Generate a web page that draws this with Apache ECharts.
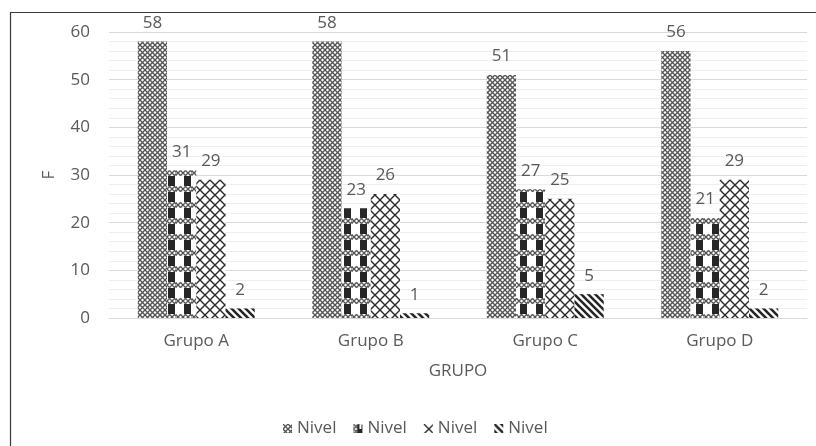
<!DOCTYPE html>
<html>
<head>
<meta charset="utf-8">
<script src="https://cdn.jsdelivr.net/npm/echarts@6/dist/echarts.min.js"></script>
<style>
  html, body { margin: 0; padding: 0; background: #ffffff; }
  #chart { width: 816px; height: 446px; }
</style>
</head>
<body>
<div id="chart"></div>
<script>
// Group categories and counts per level
const categories = ['Grupo A', 'Grupo B', 'Grupo C', 'Grupo D'];
const nivel1 = [58, 58, 51, 56];
const nivel2 = [31, 23, 27, 21];
const nivel3 = [29, 26, 25, 29];
const nivel4 = [2, 1, 5, 2];
const seriesNames = ['Nivel 1', 'Nivel 2', 'Nivel 3', 'Nivel 4'];
const legendLabel = 'Nivel';
const yTicks = [0, 10, 20, 30, 40, 50, 60];

const TEXT = '#595959';
const FONT = 'Open Sans';
const FS = 17;

// --- hatch fills -------------------------------------------------------
function tile(w, h, draw) {
  const c = document.createElement('canvas');
  c.width = w; c.height = h;
  const ctx = c.getContext('2d');
  ctx.fillStyle = '#ffffff';
  ctx.fillRect(0, 0, w, h);
  draw(ctx, w, h);
  return c;
}

// fine lattice used by the first level and for the bands of the second
function fineLattice(ctx, x0, y0, w, h) {
  ctx.save();
  ctx.beginPath();
  ctx.rect(x0, y0, w, h);
  ctx.clip();
  ctx.strokeStyle = '#555555';
  ctx.lineWidth = 1.3;
  const p = 5;
  for (let k = -h - p; k < w + h + p; k += p) {
    ctx.beginPath();
    ctx.moveTo(x0 + k, y0);
    ctx.lineTo(x0 + k + h, y0 + h);
    ctx.stroke();
    ctx.beginPath();
    ctx.moveTo(x0 + k + h, y0);
    ctx.lineTo(x0 + k, y0 + h);
    ctx.stroke();
  }
  ctx.restore();
}

const pat1 = tile(10, 10, (ctx, w, h) => fineLattice(ctx, 0, 0, w, h));

const pat2 = tile(16, 16, (ctx, w, h) => {
  ctx.fillStyle = '#262626';
  ctx.fillRect(8, 0, 7, h);
  ctx.fillStyle = '#ffffff';
  ctx.fillRect(0, 10, w, 6);
  fineLattice(ctx, 0, 10, w, 6);
});

// compact swatch of the second level for the legend key
const pat2Key = tile(10, 10, (ctx, w, h) => {
  fineLattice(ctx, 0, 0, w, h);
  ctx.fillStyle = '#262626';
  ctx.fillRect(4, 1, 6, 9);
  ctx.fillStyle = '#ffffff';
  ctx.fillRect(6, 1, 2, 4);
});

const pat3 = tile(10, 10, (ctx, w, h) => {
  ctx.strokeStyle = '#2a2a2a';
  ctx.lineWidth = 1.4;
  ctx.beginPath();
  ctx.moveTo(0, 0); ctx.lineTo(w, h);
  ctx.moveTo(w, 0); ctx.lineTo(0, h);
  ctx.stroke();
});

const pat4 = tile(7, 7, (ctx, w, h) => {
  ctx.strokeStyle = '#262626';
  ctx.lineWidth = 2.6;
  ctx.beginPath();
  ctx.moveTo(-w, -h); ctx.lineTo(2 * w, 2 * h);
  ctx.moveTo(-w, 0); ctx.lineTo(w, 2 * h);
  ctx.moveTo(0, -h); ctx.lineTo(2 * w, h);
  ctx.stroke();
});

const asFill = img => ({ image: img, repeat: 'repeat' });
const fills = [pat1, pat2, pat3, pat4].map(asFill);
const values = [nivel1, nivel2, nivel3, nivel4];

const legendItems = seriesNames.map((name, i) =>
  i === 1 ? { name, itemStyle: { color: asFill(pat2Key) } } : { name });

const chart = echarts.init(document.getElementById('chart'), null, { renderer: 'canvas' });

chart.setOption({
  animation: false,
  backgroundColor: '#ffffff',
  textStyle: { fontFamily: FONT, color: TEXT },
  grid: { left: 109, right: 9, top: 32, bottom: 128 },
  graphic: [{
    type: 'rect',
    shape: { x: 10.5, y: 12.5, width: 820, height: 450 },
    style: { fill: 'none', stroke: '#3a3a3a', lineWidth: 1.2 },
    silent: true,
    z: 100
  }],
  legend: {
    left: 278,
    top: 415,
    itemWidth: 9,
    itemHeight: 9,
    itemGap: 17,
    icon: 'rect',
    data: legendItems,
    formatter: () => legendLabel,
    textStyle: { fontFamily: FONT, fontSize: FS, color: TEXT }
  },
  xAxis: {
    type: 'category',
    data: categories,
    name: 'GRUPO',
    nameLocation: 'middle',
    nameGap: 45,
    nameTextStyle: { fontFamily: FONT, fontSize: FS, color: TEXT },
    axisLine: { lineStyle: { color: '#d9d9d9', width: 1 } },
    axisTick: { show: false },
    axisLabel: { fontFamily: FONT, fontSize: FS, color: TEXT, margin: 15 },
    splitLine: { show: false }
  },
  yAxis: {
    type: 'value',
    min: yTicks[0],
    max: yTicks[yTicks.length - 1],
    interval: 10,
    name: 'F',
    nameLocation: 'middle',
    nameGap: 51,
    nameRotate: 90,
    nameTextStyle: { fontFamily: FONT, fontSize: FS, color: TEXT },
    axisLine: { show: false },
    axisTick: { show: false },
    axisLabel: { fontFamily: FONT, fontSize: FS, color: TEXT, margin: 19 },
    splitLine: { lineStyle: { color: '#d9d9d9', width: 1 } },
    minorTick: { show: false, splitNumber: 5 },
    minorSplitLine: { show: true, lineStyle: { color: '#eeeeee', width: 1 } }
  },
  series: values.map((vals, i) => ({
    name: seriesNames[i],
    type: 'bar',
    data: vals,
    barGap: '0%',
    barCategoryGap: '33%',
    itemStyle: { color: fills[i] },
    label: {
      show: true,
      position: 'top',
      distance: 10,
      fontFamily: FONT,
      fontSize: FS,
      color: TEXT
    }
  }))
});
</script>
</body>
</html>
